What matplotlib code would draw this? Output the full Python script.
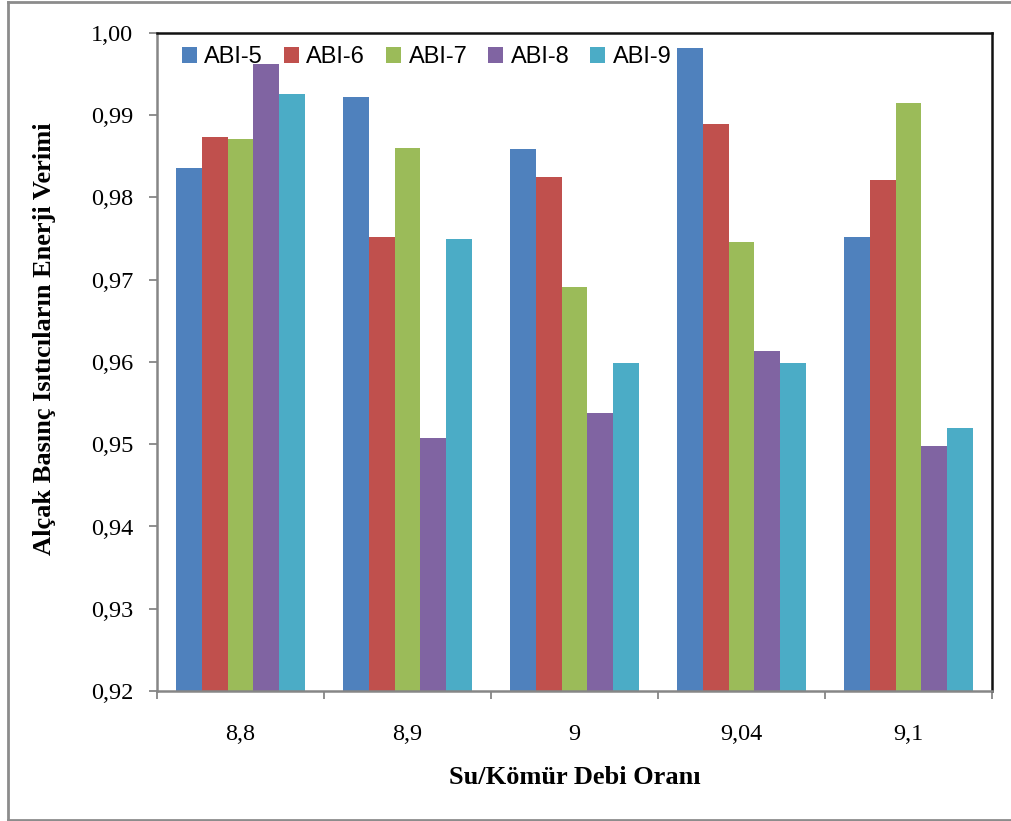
import matplotlib
matplotlib.use("Agg")
import matplotlib.pyplot as plt
from matplotlib.lines import Line2D
import numpy as np

# Water/coal flow ratio categories
categories = ["8,8", "8,9", "9", "9,04", "9,1"]
series_names = ["ABI-5", "ABI-6", "ABI-7", "ABI-8", "ABI-9"]

# Energy efficiency of low-pressure heaters per ratio
abi5 = [0.9836, 0.9922, 0.9859, 0.9982, 0.9752]
abi6 = [0.9874, 0.9752, 0.9825, 0.9889, 0.9821]
abi7 = [0.9871, 0.9860, 0.9691, 0.9746, 0.9915]
abi8 = [0.9962, 0.9508, 0.9538, 0.9613, 0.9498]
abi9 = [0.9926, 0.9750, 0.9599, 0.9599, 0.9520]

y_ticks = [0.92, 0.93, 0.94, 0.95, 0.96, 0.97, 0.98, 0.99, 1.00]
y_tick_labels = ["0,92", "0,93", "0,94", "0,95", "0,96", "0,97", "0,98", "0,99", "1,00"]

colors = ["#4F81BD", "#C0504D", "#9BBB59", "#8064A2", "#4BACC6"]
series = [abi5, abi6, abi7, abi8, abi9]

W, H = 1012, 821
fig = plt.figure(figsize=(W / 100, H / 100), dpi=100)
ax = fig.add_axes([157 / W, 1 - 691 / H, (992 - 157) / W, (691 - 33) / H])

n = len(series)
bar_w = 1 / (n + 1.5)
x = np.arange(len(categories))
for i, (vals, col, name) in enumerate(zip(series, colors, series_names)):
    offs = (i - (n - 1) / 2) * bar_w
    ax.bar(x + offs, vals, width=bar_w, color=col, label=name, zorder=2)

ax.set_xlim(-0.5, len(categories) - 0.5)
ax.set_ylim(0.92, 1.00)

serif = "Liberation Serif"
ax.set_yticks(y_ticks)
ax.set_yticklabels(y_tick_labels, fontfamily=serif, fontsize=17.5)
ax.set_xticks(x)
ax.set_xticklabels(categories, fontfamily=serif, fontsize=17.5)
ax.set_xticks(np.arange(-0.5, len(categories)), minor=True)
ax.tick_params(axis="x", which="major", length=0, pad=24)
ax.tick_params(axis="x", which="minor", length=6, width=1.3, color="#868686", direction="out")
ax.tick_params(axis="y", which="major", length=6, width=1.3, color="#868686", direction="out", pad=11)

for side in ("left", "bottom"):
    ax.spines[side].set_color("#868686")
    ax.spines[side].set_linewidth(1.8)
for side in ("top", "right"):
    ax.spines[side].set_color("#111111")
    ax.spines[side].set_linewidth(1.8)

ax.set_xlabel("Su/Kömür Debi Oranı", fontfamily=serif, fontsize=19, fontweight="bold")
ax.xaxis.set_label_coords(0.5, -0.132)
ax.xaxis.label.set_va("center")
ax.set_ylabel("Alçak Basınç Isıtıcıların Enerji Verimi", fontfamily=serif, fontsize=19,
              fontweight="bold")
ax.yaxis.set_label_coords(-0.135, 0.535)
ax.yaxis.label.set_va("center")

leg = ax.legend(loc="upper left", bbox_to_anchor=(25 / (992 - 157), 1 - 13 / 658), ncol=5,
                frameon=False, prop={"family": "Liberation Sans", "size": 17},
                handlelength=0.65, handleheight=0.65, handletextpad=0.3,
                columnspacing=0.88, borderpad=0, borderaxespad=0)

# Outer chart-area border
border_kw = dict(color="#8c8c8c", linewidth=2, transform=fig.transFigure)
fig.add_artist(Line2D([8 / W, 1.0], [1 - 2 / H, 1 - 2 / H], **border_kw))
fig.add_artist(Line2D([8 / W, 8 / W], [1 - 2 / H, 1 - 820 / H], **border_kw))
fig.add_artist(Line2D([8 / W, 1.0], [1 - 820 / H, 1 - 820 / H], **border_kw))

fig.savefig("out.png", dpi=100, facecolor="white")
